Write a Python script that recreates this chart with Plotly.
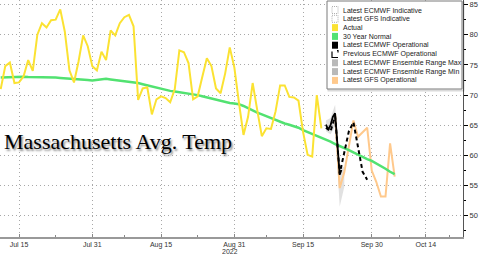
import plotly.graph_objects as go
import pandas as pd

# ---------------- data ----------------
actual_start = "2022-07-11"
actual_vals = [71.0, 74.8, 75.4, 72.0, 72.1, 73.1, 75.8, 74.0, 80.0, 81.9,
               81.2, 82.4, 82.5, 84.2, 80.5, 74.1, 72.1, 75.6, 79.9, 78.1,
               74.8, 74.1, 77.2, 75.8, 80.7, 79.9, 81.9, 82.9, 83.3, 81.4,
               69.2, 71.1, 71.3, 66.8, 69.3, 69.8, 69.5, 68.8, 71.0, 77.4,
               77.1, 75.3, 69.3, 69.8, 73.0, 76.1, 74.8, 71.1, 70.3, 73.6,
               77.9, 74.6, 68.8, 63.4, 66.4, 72.0, 67.5, 63.2, 64.5, 64.4,
               67.3, 71.6, 71.6, 69.7, 69.6, 69.1, 63.9, 60.1, 59.8, 70.0,
               64.5]

normal_start = "2022-07-11"
normal_vals = [72.9, 72.95, 73.0, 73.0, 73.05, 73.05, 73.0, 73.0, 73.0, 73.0,
               73.0, 72.95, 72.9, 72.85, 72.8, 72.8, 72.75, 72.7, 72.6, 72.5, 72.4,
               72.5, 72.6, 72.7, 72.6, 72.5, 72.4, 72.35, 72.3, 72.2, 72.0,
               71.8, 71.6, 71.4, 71.2, 71.0, 70.8, 70.7, 70.6, 70.5, 70.4,
               70.3, 70.2, 70.0, 69.8, 69.6, 69.4, 69.2, 69.0, 68.9, 68.7, 68.6,
               68.5, 68.2, 67.8, 67.4, 67.1, 66.8, 66.5, 66.2, 65.9, 65.5,
               65.3, 65.1, 64.9, 64.6, 64.2, 63.9, 63.6, 63.3, 63.0, 62.6,
               62.3, 61.9, 61.6, 61.2, 60.9, 60.5, 60.1, 59.8, 59.4, 59.1,
               58.7, 58.3, 57.8, 57.3, 56.9]

ecmwf_dates = ["2022-09-20 00:00", "2022-09-20 12:00", "2022-09-21 00:00",
               "2022-09-21 12:00", "2022-09-22 00:00", "2022-09-23 00:00",
               "2022-09-23 09:00"]
ecmwf_vals = [65.1, 64.3, 65.0, 66.4, 67.0, 56.8, 57.6]

prev_dates = ["2022-09-20", "2022-09-21", "2022-09-22", "2022-09-23", "2022-09-24",
              "2022-09-25", "2022-09-26", "2022-09-27", "2022-09-28", "2022-09-29"]
prev_vals = [64.6, 64.0, 66.5, 57.0, 60.5, 64.0, 65.5, 61.5, 57.3, 56.0]

ens_dates = ["2022-09-20", "2022-09-21", "2022-09-22", "2022-09-23", "2022-09-24"]
ens_max = [65.8, 66.2, 68.4, 58.5, 58.0]
ens_min = [64.0, 63.5, 64.8, 51.5, 54.8]

gfs_dates = ["2022-09-22", "2022-09-23", "2022-09-24", "2022-09-25", "2022-09-26",
             "2022-09-27", "2022-09-28", "2022-09-29", "2022-09-30", "2022-10-01",
             "2022-10-02", "2022-10-03", "2022-10-04", "2022-10-05"]
gfs_vals = [66.8, 54.6, 57.2, 61.5, 65.8, 63.1, 63.8, 64.6, 57.5, 55.6,
            53.2, 53.2, 62.0, 56.5]

x_tickvals = ["2022-07-15", "2022-07-31", "2022-08-15", "2022-08-31",
              "2022-09-15", "2022-09-30", "2022-10-11 19:00"]
x_ticktext = ["Jul 15", "Jul 31", "Aug 15", "Aug 31", "Sep 15", "Sep 30", "Oct 14"]
x_minor = ["2022-07-23", "2022-08-07", "2022-08-23", "2022-09-07",
           "2022-09-23", "2022-10-06", "2022-10-17"]
y_tickvals = [50, 55, 60, 65, 70, 75, 80, 85]
y_minor = [47.5, 52.5, 57.5, 62.5, 67.5, 72.5, 77.5, 82.5]

legend_labels = ["Latest ECMWF Indicative", "Latest GFS Indicative", "Actual",
                 "30 Year Normal", "Latest ECMWF Operational",
                 "Previous ECMWF Operational", "Latest ECMWF Ensemble Range Max",
                 "Latest ECMWF Ensemble Range Min", "Latest GFS Operational"]

# ---------------- styles ----------------
YELLOW = "#fbe232"
GREEN = "#52e271"
ORANGE = "#ffc98c"
GRAYFILL = "rgba(205,205,205,0.6)"
GRAYLEG = "#b9b9b9"
GRID = "#a8a8a8"

actual_dates = pd.date_range(actual_start, periods=len(actual_vals), freq="D")
normal_dates = pd.date_range(normal_start, periods=len(normal_vals), freq="D")

fig = go.Figure()

fig.add_trace(go.Scatter(x=ens_dates, y=ens_max, mode="lines",
                         line=dict(width=0, color=GRAYLEG), showlegend=False,
                         hoverinfo="skip"))
fig.add_trace(go.Scatter(x=ens_dates, y=ens_min, mode="lines", fill="tonexty",
                         fillcolor=GRAYFILL, line=dict(width=0, color=GRAYLEG),
                         showlegend=False))
fig.add_trace(go.Scatter(x=gfs_dates, y=gfs_vals, mode="lines",
                         line=dict(color=ORANGE, width=2), showlegend=False))
fig.add_trace(go.Scatter(x=normal_dates, y=normal_vals, mode="lines",
                         line=dict(color=GREEN, width=2.5), showlegend=False))
fig.add_trace(go.Scatter(x=actual_dates, y=actual_vals, mode="lines",
                         line=dict(color=YELLOW, width=2), showlegend=False))
fig.add_trace(go.Scatter(x=prev_dates, y=prev_vals, mode="lines",
                         line=dict(color="black", width=2, dash="4px,3px"),
                         showlegend=False))
fig.add_trace(go.Scatter(x=ecmwf_dates, y=ecmwf_vals, mode="lines",
                         line=dict(color="black", width=1.8), showlegend=False))

# ---------------- layout ----------------
PW, PH = 463.0, 237.0
def px(x):
    return x / PW
def py(y):
    return 1 - y / PH

shapes = []
annotations = []

# legend box
shapes.append(dict(type="rect", xref="paper", yref="paper",
                   x0=px(328.5), x1=px(463.5), y0=py(90.5), y1=py(2.5),
                   line=dict(color="rgba(0,0,0,0.15)", width=2), fillcolor="rgba(0,0,0,0)"))
shapes.append(dict(type="rect", xref="paper", yref="paper",
                   x0=px(327), x1=px(462), y0=py(89), y1=py(1),
                   line=dict(color="#7a7a7a", width=1), fillcolor="white"))

sym_fill = [None, None, YELLOW, GREEN, "black", None, GRAYLEG, GRAYLEG, ORANGE]
for i, lab in enumerate(legend_labels):
    yc = 10 + 8.8 * i
    x0, x1 = 332, 338
    y0, y1 = yc - 3.5, yc + 3.5
    if sym_fill[i] is not None:
        shapes.append(dict(type="rect", xref="paper", yref="paper",
                           x0=px(x0), x1=px(x1), y0=py(y1), y1=py(y0),
                           line=dict(width=0), fillcolor=sym_fill[i]))
    elif i == 5:
        shapes.append(dict(type="path", xref="paper", yref="paper",
                           path=f"M {px(x0)} {py(y0+1)} L {px(x0)} {py(y1)} L {px(x1)} {py(y1)} "
                                f"M {px(x1-1)} {py(y0)} L {px(x1)} {py(y0)} L {px(x1)} {py(y0+2)}",
                           line=dict(color="black", width=1.2)))
    else:
        shapes.append(dict(type="rect", xref="paper", yref="paper",
                           x0=px(x0), x1=px(x1), y0=py(y1), y1=py(y0),
                           line=dict(color="#b0b0b0", width=1, dash="1px,1px"),
                           fillcolor="white"))
    annotations.append(dict(xref="paper", yref="paper", x=px(340.5), y=py(yc),
                            xanchor="left", yanchor="middle", text=lab,
                            showarrow=False,
                            font=dict(family="Liberation Sans", size=7, color="#222")))

# title text
annotations.append(dict(xref="paper", yref="paper", x=px(2), y=py(141),
                        xanchor="left", yanchor="middle",
                        text="Massachusetts Avg. Temp", showarrow=False,
                        font=dict(family="Liberation Serif", size=22, color="black",
                                  shadow="1.5px 1.5px 2px rgba(0,0,0,0.45)")))
# year label
annotations.append(dict(xref="x", yref="paper", x="2022-08-30", y=0,
                        yshift=-9, xanchor="center", yanchor="top", text="2022",
                        showarrow=False, height=8, valign="top",
                        font=dict(family="Liberation Sans", size=7, color="#333")))

fig.update_layout(
    width=480, height=256,
    margin=dict(l=0, r=17, t=0, b=19),
    paper_bgcolor="white", plot_bgcolor="white",
    showlegend=False,
    shapes=shapes, annotations=annotations,
    xaxis=dict(
        range=["2022-07-10 20:20", "2022-10-19 22:00"],
        tickmode="array", tickvals=x_tickvals, ticktext=x_ticktext,
        ticks="inside", ticklen=3, tickcolor="#888", tickwidth=1,
        showgrid=True, gridcolor=GRID, griddash="1px,3px", gridwidth=1,
        showline=True, linecolor="#999", linewidth=1.5,
        tickfont=dict(family="Liberation Sans", size=7, color="#333"),
        minor=dict(tickmode="array", tickvals=x_minor, ticks="inside",
                   ticklen=2, tickcolor="#888", showgrid=False),
        zeroline=False,
    ),
    yaxis=dict(
        side="right", range=[46.5, 85.75],
        tickmode="array", tickvals=y_tickvals,
        ticks="outside", ticklen=4, tickcolor="black", tickwidth=1,
        showgrid=True, gridcolor=GRID, griddash="1px,3px", gridwidth=1,
        showline=True, linecolor="#555", linewidth=1,
        tickfont=dict(family="Liberation Sans", size=7.5, color="#333"),
        minor=dict(tickmode="array", tickvals=y_minor, ticks="outside",
                   ticklen=2, tickcolor="black", showgrid=False),
        zeroline=False,
    ),
)

fig.write_html("out.html")
